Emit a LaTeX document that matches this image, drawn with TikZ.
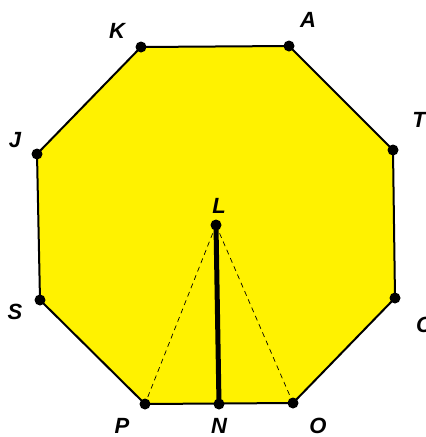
\documentclass[tikz,border=0pt]{standalone}
\usepackage{fontspec}
\setmainfont{Liberation Sans}
\begin{document}
\begin{tikzpicture}[x=1pt,y=-1pt,
  dotpt/.style={circle,fill=black,inner sep=0pt,minimum size=11pt},
  lab/.style={font=\fontsize{22}{22}\selectfont\bfseries\itshape,inner sep=0pt},
  octedge/.style={line width=2pt},
  dashline/.style={dashed,line width=0.7pt,dash pattern=on 5pt off 4pt}]
\useasboundingbox (0,0) rectangle (426,437);
\coordinate (K) at (141,47);
\coordinate (A) at (289,46);
\coordinate (T) at (393,150);
\coordinate (C) at (395,298);
\coordinate (O) at (293,403);
\coordinate (N) at (219,404);
\coordinate (P) at (145,404);
\coordinate (S) at (40,300);
\coordinate (J) at (37,154);
\coordinate (L) at (216,225);
\fill[yellow] (K)--(A)--(T)--(C)--(O)--(P)--(S)--(J)--cycle;
\draw[octedge] (K)--(A)--(T)--(C)--(O)--(P)--(S)--(J)--cycle;
\draw[dashline] (L)--(P);
\draw[dashline] (L)--(O);
\draw[line width=5pt] (L)--(N);
\foreach \p in {K,A,T,C,O,N,P,S,J,L} \node[dotpt] (d\p) at (\p) {};
\node[lab] (lK) at (117,31) {K};
\node[lab] (lA) at (308,20) {A};
\node[lab] (lT) at (419,120) {T};
\node[lab] (lC) at (424,325) {C};
\node[lab] (lO) at (318,426) {O};
\node[lab] (lN) at (219,426) {N};
\node[lab] (lP) at (122,426) {P};
\node[lab] (lS) at (15,312) {S};
\node[lab] (lJ) at (15,140) {J};
\node[lab] (lL) at (219,206) {L};
\end{tikzpicture}
\end{document}
